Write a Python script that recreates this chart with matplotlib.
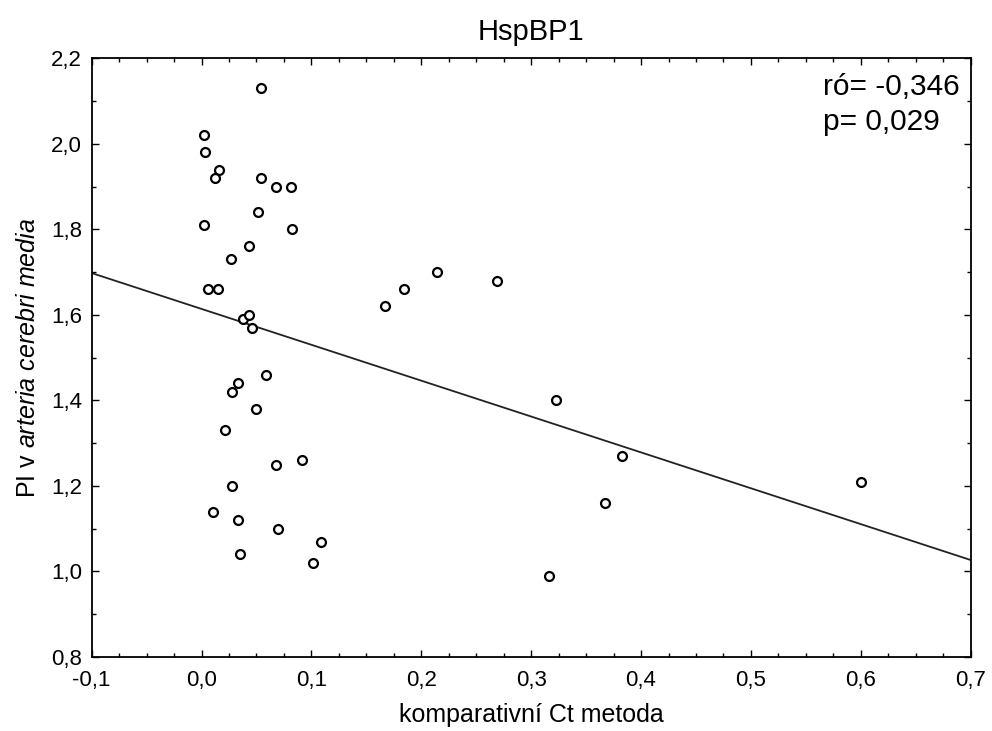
import numpy as np
import matplotlib.pyplot as plt
from matplotlib.ticker import MultipleLocator, FuncFormatter

plt.rcParams['font.family'] = ['Liberation Sans', 'DejaVu Sans']
plt.rcParams['mathtext.fontset'] = 'custom'
plt.rcParams['mathtext.rm'] = 'Liberation Sans'
plt.rcParams['mathtext.it'] = 'Liberation Sans:italic'

# komparativní Ct metoda vs. PI v arteria cerebri media
ct_metoda = [0.054, 0.002, 0.003, 0.016, 0.012, 0.054, 0.068, 0.081, 0.051, 0.002,
             0.082, 0.043, 0.027, 0.006, 0.015, 0.038, 0.043, 0.046, 0.059, 0.033,
             0.028, 0.050, 0.021, 0.068, 0.091, 0.028, 0.010, 0.033, 0.070, 0.035,
             0.109, 0.101, 0.167, 0.184, 0.214, 0.269, 0.323, 0.383, 0.367, 0.316,
             0.600]
pi_acm = [2.13, 2.02, 1.98, 1.94, 1.92, 1.92, 1.90, 1.90, 1.84, 1.81,
          1.80, 1.76, 1.73, 1.66, 1.66, 1.59, 1.60, 1.57, 1.46, 1.44,
          1.42, 1.38, 1.33, 1.25, 1.26, 1.20, 1.14, 1.12, 1.10, 1.04,
          1.07, 1.02, 1.62, 1.66, 1.70, 1.68, 1.40, 1.27, 1.16, 0.99,
          1.21]

x = np.array(ct_metoda)
y = np.array(pi_acm)
slope, intercept = np.polyfit(x, y, 1)

fig = plt.figure(figsize=(9.92, 7.31), dpi=100)
ax = fig.add_axes([0.0924, 0.1012, 0.8861, 0.819])

xl = np.array([-0.1, 0.7])
ax.plot(xl, intercept + slope * xl, color='#222222', lw=1.3)
ax.plot(x, y, 'o', ms=6.4, mfc='white', mec='black', mew=1.6)

ax.set_xlim(-0.1, 0.7)
ax.set_ylim(0.8, 2.2)
ax.xaxis.set_major_locator(MultipleLocator(0.1))
ax.xaxis.set_minor_locator(MultipleLocator(0.025))
ax.yaxis.set_major_locator(MultipleLocator(0.2))
ax.yaxis.set_minor_locator(MultipleLocator(0.1))
comma = FuncFormatter(lambda v, p: f'{v:.1f}'.replace('.', ',').replace('-0,0', '0,0'))
ax.xaxis.set_major_formatter(comma)
ax.yaxis.set_major_formatter(comma)
ax.tick_params(which='both', direction='in', top=True, right=True, labelsize=16, pad=7)
ax.tick_params(axis='x', pad=9)
ax.tick_params(which='major', length=5, width=1)
ax.tick_params(which='minor', length=3, width=1)
for s in ax.spines.values():
    s.set_linewidth(1.3)

ax.set_xlabel('komparativní Ct metoda', fontsize=18, labelpad=9)
ax.set_ylabel(r'PI v $\mathit{arteria\ cerebri\ media}$', fontsize=18, labelpad=8)
ax.set_title('HspBP1', fontsize=21, pad=13)

ax.text(0.832, 0.975, 'ró= -0,346\np= 0,029', transform=ax.transAxes,
        fontsize=21.5, va='top', ha='left', linespacing=1.3)

fig.savefig('out.png', dpi=100)
